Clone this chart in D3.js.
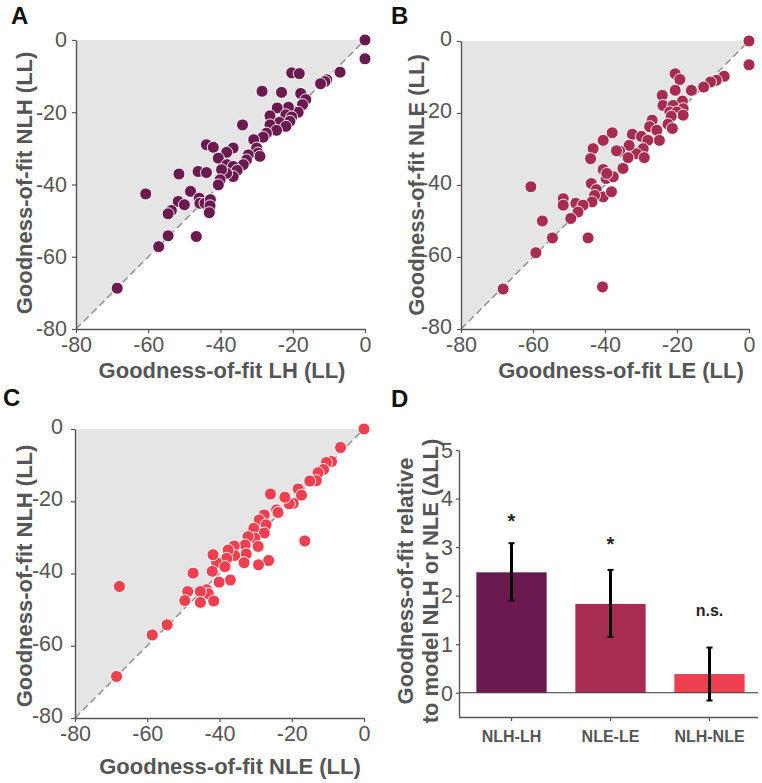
<!DOCTYPE html>
<html><head><meta charset="utf-8">
<script src="https://cdn.jsdelivr.net/npm/d3@7"></script>
<style>
body{margin:0;background:#fff;}
svg{display:block;font-family:"Liberation Sans",Arial,Helvetica,sans-serif;}
</style></head>
<body><svg id="c" width="762" height="783"></svg>
<script>
// ---------- DATA ----------
const scatterTicks = [-80, -60, -40, -20, 0];
const scatterDomain = [-80, 0];

// Panel A: x = LH, y = NLH
const scatterA = [
 [0,0],[0,-5.2],[-6.9,-8.9],[-10.6,-11.0],[-11.1,-11.5],[-12.3,-12.1],[-20.3,-9.1],[-18.2,-9.3],
 [-28.5,-14.2],[-23.1,-14.5],[-17.8,-14.8],[-16.4,-16.5],[-17.3,-17.9],[-18.5,-20.0],[-21.2,-18.6],
 [-24.3,-18.8],[-26.3,-21.0],[-21.9,-20.7],[-20.3,-21.3],[-20.8,-22.5],[-23.7,-22.8],[-26.3,-23.5],
 [-21.9,-23.9],[-24.5,-25.0],[-27.3,-25.8],[-28.2,-26.9],[-30.8,-27.6],[-33.9,-23.5],[-30.0,-29.9],
 [-29.6,-31.3],[-29.1,-32.2],[-32.3,-31.8],[-32.8,-33.2],[-33.7,-34.5],[-36.5,-29.9],[-38.3,-31.1],
 [-43.9,-29.0],[-42.0,-29.7],[-40.6,-32.7],[-38.2,-34.5],[-36.5,-35.0],[-35.4,-36.1],[-36.5,-37.8],
 [-38.3,-36.9],[-39.7,-35.9],[-40.1,-38.7],[-40.6,-40.1],[-46.2,-36.4],[-43.9,-36.7],[-51.5,-37.1],
 [-48.3,-41.9],[-60.7,-42.6],[-45.9,-43.8],[-45.7,-45.2],[-44.3,-45.2],[-42.8,-44.2],[-42.9,-45.9],
 [-43.1,-47.8],[-51.7,-44.7],[-50.0,-45.6],[-53.6,-47.2],[-54.5,-48.1],[-54.5,-54.2],[-46.7,-54.4],
 [-57.1,-57.2],[-68.6,-68.7]
];
// Panel B: x = LE, y = NLE
const scatterB = [
 [0,0],[0,-6.6],[-6.9,-9.8],[-9.1,-10.9],[-10.7,-11.4],[-12.6,-12.8],[-16.0,-13.7],[-20.5,-9.1],
 [-19.2,-10.7],[-20.5,-13.7],[-24.1,-15.1],[-18.5,-16.7],[-23.9,-17.9],[-21.1,-17.9],[-18.3,-18.8],
 [-22.0,-19.7],[-20.0,-19.7],[-18.3,-20.6],[-21.6,-20.9],[-22.5,-23.1],[-21.3,-24.3],[-26.9,-22.0],
 [-27.6,-23.8],[-25.6,-24.8],[-24.9,-27.6],[-32.4,-25.9],[-29.9,-26.5],[-28.1,-27.6],[-29.4,-29.9],
 [-31.3,-31.3],[-29.1,-32.4],[-33.3,-29.0],[-35.9,-30.6],[-36.8,-30.5],[-33.6,-32.4],[-35.0,-35.4],
 [-38.0,-25.5],[-40.5,-27.6],[-43.3,-29.9],[-44.0,-32.7],[-40.5,-35.7],[-39.7,-38.2],[-37.7,-37.7],
 [-39.5,-36.8],[-43.8,-39.6],[-42.4,-41.3],[-40.5,-43.3],[-38.2,-41.9],[-42.9,-42.9],[-43.6,-44.7],
 [-51.6,-43.8],[-51.6,-45.6],[-48.1,-45.1],[-46.1,-45.6],[-47.5,-47.5],[-49.5,-49.3],[-60.6,-40.5],
 [-57.4,-50.0],[-54.6,-54.7],[-44.7,-54.7],[-59.2,-58.8],[-68.3,-68.9],[-40.7,-68.3]
];
// Panel C: x = NLE, y = NLH
const scatterC = [
 [0,0],[-6.5,-5.1],[-9.0,-9.0],[-10.4,-9.3],[-11.2,-11.2],[-12.7,-12.1],[-13.2,-14.3],[-15.0,-14.4],
 [-16.4,-31.0],[-18.2,-16.6],[-17.3,-18.3],[-19.6,-20.6],[-20.7,-20.7],[-21.9,-18.9],[-24.2,-22.4],
 [-23.8,-23.1],[-25.9,-18.0],[-27.6,-23.8],[-29.0,-25.2],[-27.1,-26.5],[-30.5,-27.5],[-27.6,-28.8],
 [-30.2,-30.2],[-32.1,-29.8],[-29.3,-32.5],[-26.4,-36.4],[-29.2,-37.6],[-32.9,-32.1],[-32.6,-34.6],
 [-35.9,-32.4],[-35.8,-35.0],[-33.2,-37.0],[-37.6,-33.5],[-38.0,-35.8],[-40.8,-37.0],[-41.8,-34.8],
 [-38.5,-38.1],[-37.0,-41.8],[-40.1,-42.4],[-42.0,-39.4],[-47.3,-39.9],[-43.6,-44.5],[-43.1,-45.6],
 [-45.3,-45.0],[-48.8,-45.0],[-49.6,-47.5],[-45.3,-48.0],[-41.6,-47.6],[-67.7,-43.6],[-54.5,-54.2],
 [-58.6,-57.0],[-68.5,-68.5]
];

// Panel D
const barCategories = ["NLH-LH", "NLE-LE", "NLH-NLE"];
const barValues = [2.48, 1.83, 0.385];
const errLow = [1.90, 1.15, -0.16];
const errHigh = [3.08, 2.53, 0.93];
const sigLabels = ["*", "*", "n.s."];
const barTicks = [0, 1, 2, 3, 4, 5];
const barDomain = [-0.5, 5];

// ---------- STYLE ----------
const colors = ["#6b1a50", "#a62d50", "#ee4050"];
const textGray = "#555";
const axisCol = "#555";
const fmt = d => String(d);

const svg = d3.select("#c");

function styleAxis(g) {
  g.select(".domain").attr("stroke", axisCol).attr("stroke-width", 1.4);
  g.selectAll(".tick line").attr("stroke", axisCol).attr("stroke-width", 1.2);
  g.selectAll(".tick text").attr("fill", textGray).style("font-size", "21.5px");
}

function scatterPanel(cfg) {
  const x = d3.scaleLinear().domain(scatterDomain).range([cfg.x0, cfg.x1]);
  const y = d3.scaleLinear().domain(scatterDomain).range([cfg.y1, cfg.y0]);
  const g = svg.append("g");
  // gray triangle (y > x region)
  g.append("path")
    .attr("d", d3.line()([[x(-80), y(-80)], [x(-80), y(0)], [x(0), y(0)]]) + "Z")
    .attr("fill", "#e5e5e5");
  // diagonal
  g.append("line")
    .attr("x1", x(-80)).attr("y1", y(-80)).attr("x2", x(0)).attr("y2", y(0))
    .attr("stroke", "#8a8a8a").attr("stroke-width", 1.4).attr("stroke-dasharray", "7,4");
  // titles
  g.append("text").attr("x", cfg.xtX).attr("y", cfg.xtY).attr("text-anchor", "middle")
    .attr("fill", textGray).style("font-size", "22px").style("font-weight", "bold").text(cfg.xTitle);
  g.append("text").attr("transform", `translate(${cfg.ytX},${cfg.ytY}) rotate(-90)`)
    .attr("text-anchor", "middle")
    .attr("fill", textGray).style("font-size", "22px").style("font-weight", "bold").text(cfg.yTitle);
  // axes
  const ax = g.append("g").attr("transform", `translate(0,${cfg.y1})`)
    .call(d3.axisBottom(x).tickValues(scatterTicks).tickFormat(fmt).tickSize(4).tickPadding(4).tickSizeOuter(0));
  styleAxis(ax);
  ax.selectAll(".tick text").attr("dy", "0.71em");
  const ay = g.append("g").attr("transform", `translate(${cfg.x0},0)`)
    .call(d3.axisLeft(y).tickValues(scatterTicks).tickFormat(fmt).tickSize(4).tickPadding(cfg.yPad).tickSizeOuter(0));
  styleAxis(ay);
  ay.selectAll(".tick text").attr("dy", cfg.yDy);
  // points
  g.selectAll("circle.pt").data(cfg.data).enter().append("circle")
    .attr("class", "pt")
    .attr("cx", d => x(d[0])).attr("cy", d => y(d[1]))
    .attr("r", 6).attr("fill", cfg.color).attr("stroke", "#fff").attr("stroke-width", 0.9);
  // letter
  svg.append("text").attr("x", cfg.lx).attr("y", cfg.ly).attr("fill", "#111")
    .style("font-size", "24px").style("font-weight", "bold").text(cfg.letter);
}

scatterPanel({x0:76, x1:365, y0:40, y1:329, data:scatterA, color:colors[0],
  xTitle:"Goodness-of-fit LH (LL)", yTitle:"Goodness-of-fit NLH (LL)",
  xtX:222, xtY:378, ytX:32, ytY:183, yPad:5, yDy:"0.32em", letter:"A", lx:11, ly:24});
scatterPanel({x0:461, x1:749, y0:41, y1:329, data:scatterB, color:colors[1],
  xTitle:"Goodness-of-fit LE (LL)", yTitle:"Goodness-of-fit NLE (LL)",
  xtX:621, xtY:378, ytX:424, ytY:185, yPad:5, yDy:"0.2em", letter:"B", lx:391, ly:24});
scatterPanel({x0:75, x1:364, y0:429, y1:718, data:scatterC, color:colors[2],
  xTitle:"Goodness-of-fit NLE (LL)", yTitle:"Goodness-of-fit NLH (LL)",
  xtX:230, xtY:774, ytX:32, ytY:576, yPad:8, yDy:"0.2em", letter:"C", lx:3, ly:406});

// ---------- PANEL D ----------
(function(){
  const left = 459, right = 758, top = 450, bottom = 717;
  const y = d3.scaleLinear().domain(barDomain).range([bottom, top]);
  const x = d3.scaleBand().domain(barCategories).range([462, 759]).paddingInner(0.29).paddingOuter(0.145);
  const g = svg.append("g");

  // y title (two lines)
  const yt = g.append("text").attr("transform", `translate(413,581) rotate(-90)`)
    .attr("text-anchor", "middle").attr("fill", textGray)
    .style("font-size", "22px").style("font-weight", "bold");
  yt.append("tspan").attr("x", 0).attr("y", 0).text("Goodness-of-fit relative");
  yt.append("tspan").attr("x", 0).attr("y", 25).text("to model NLH or NLE (ΔLL)");

  g.selectAll("rect.bar").data(barCategories).enter().append("rect")
    .attr("class", "bar")
    .attr("x", d => x(d)).attr("width", x.bandwidth())
    .attr("y", (d, i) => y(barValues[i])).attr("height", (d, i) => y(0) - y(barValues[i]))
    .attr("fill", (d, i) => colors[i]);

  // zero line
  g.append("line").attr("x1", left).attr("x2", right).attr("y1", y(0)).attr("y2", y(0))
    .attr("stroke", "#333").attr("stroke-width", 1.1);

  // error bars
  const eb = g.selectAll("g.eb").data(barCategories).enter().append("g").attr("class", "eb");
  eb.append("line").attr("x1", d => x(d) + x.bandwidth()/2).attr("x2", d => x(d) + x.bandwidth()/2)
    .attr("y1", (d, i) => y(errLow[i])).attr("y2", (d, i) => y(errHigh[i]))
    .attr("stroke", "#000").attr("stroke-width", 3);
  [errLow, errHigh].forEach(arr => {
    eb.append("line").attr("x1", d => x(d) + x.bandwidth()/2 - 3).attr("x2", d => x(d) + x.bandwidth()/2 + 3)
      .attr("y1", (d, i) => y(arr[i])).attr("y2", (d, i) => y(arr[i]))
      .attr("stroke", "#000").attr("stroke-width", 2);
  });

  // significance labels
  g.selectAll("text.sig").data(barCategories).enter().append("text")
    .attr("class", "sig").attr("text-anchor", "middle")
    .attr("x", d => x(d) + x.bandwidth()/2)
    .attr("y", (d, i) => y(errHigh[i]) - (sigLabels[i] === "*" ? (i === 0 ? 15 : 19) : 32))
    .attr("fill", "#222").style("font-weight", "bold")
    .style("font-size", (d, i) => sigLabels[i] === "*" ? "20px" : "16px")
    .text((d, i) => sigLabels[i]);

  // axes
  const ay = g.append("g").attr("transform", `translate(${left},0)`)
    .call(d3.axisLeft(y).tickValues(barTicks).tickFormat(fmt).tickSize(3).tickPadding(3).tickSizeOuter(0));
  styleAxis(ay);
  ay.selectAll(".tick text").attr("dy", "0.34em");

  const ax = g.append("g").attr("transform", `translate(0,${bottom})`)
    .call(d3.axisBottom(x).tickSize(4).tickPadding(10).tickSizeOuter(0));
  ax.select(".domain").attr("d", `M${left},0.5H${right}`).attr("stroke", axisCol).attr("stroke-width", 1.4);
  ax.selectAll(".tick line").attr("stroke", axisCol).attr("stroke-width", 1.2);
  ax.selectAll(".tick text").attr("fill", textGray).style("font-size", "16px").style("font-weight", "bold")
    .attr("dy", "0.71em");

  svg.append("text").attr("x", 391).attr("y", 407).attr("fill", "#111")
    .style("font-size", "24px").style("font-weight", "bold").text("D");
})();
</script>
</body></html>
